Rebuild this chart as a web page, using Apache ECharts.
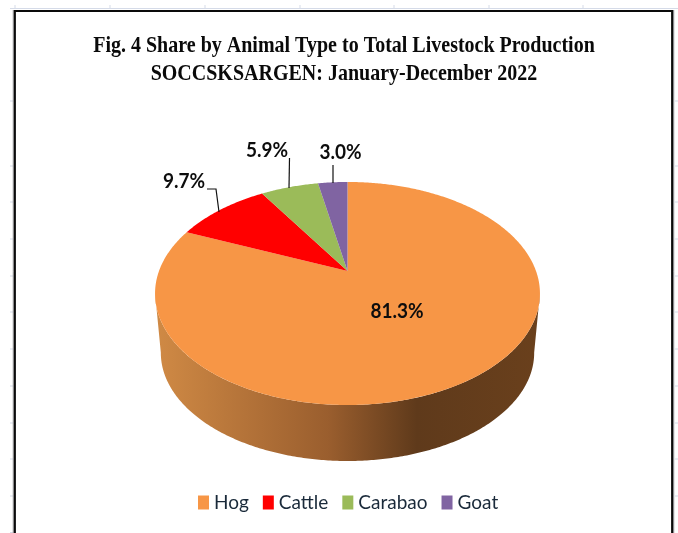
<!DOCTYPE html>
<html><head><meta charset="utf-8">
<style>html,body{margin:0;padding:0;background:#fff}#c{width:678px;height:533px}</style>
<script src="https://cdn.jsdelivr.net/npm/echarts@6/dist/echarts.min.js"></script></head>
<body><div id="c"></div>
<script>
const categories = ['Hog', 'Cattle', 'Carabao', 'Goat'];
const shares = [81.3, 9.7, 5.9, 3.0];
const shareLabels = ['81.3%', '9.7%', '5.9%', '3.0%'];
const titleLines = ['Fig. 4 Share by Animal Type to Total Livestock Production', 'SOCCSKSARGEN: January-December 2022'];

const colors = ['#F79646', '#FF0000', '#9BBB59', '#8064A2'];
const total = shares.reduce((a, b) => a + b, 0);
// perspective projection of the pie disc
const P = {cx: 347.5, apexY: 271, A: 188.5, B: 107, p: 0.2017, midY: 293.5, wallScale: 0.97, wallDrop: 59.3};
function project(t) {
  const u = Math.sin(t), v = Math.cos(t), d = 1 + P.p * v;
  return [P.cx + P.A * u / d, P.apexY - P.B * v / d];
}
function arc(t0, t1) {
  const n = Math.max(2, Math.ceil(Math.abs(t1 - t0) / 0.01)), pts = [];
  for (let i = 0; i <= n; i++) pts.push(project(t0 + (t1 - t0) * i / n));
  return pts;
}
function wallPt(q) {
  return [P.cx + (q[0] - P.cx) * P.wallScale, P.midY + (q[1] - P.midY) * P.wallScale + P.wallDrop];
}
// label placement: text centre, leader polyline
const labelPlace = [
  {x: 397, y: 311, line: null},
  {x: 184, y: 181, line: [[207, 189], [216, 189], [219, 212]]},
  {x: 267, y: 150, line: [[289.5, 158], [289, 188]]},
  {x: 340.5, y: 152, line: [[333, 165], [333, 183]]}
];
const labelFont = {fontFamily: 'Lato', fontWeight: 'bold', fontSize: 21, fill: '#0d0d0d', align: 'center', verticalAlign: 'middle'};

function makeSeries(i) {
  const before = shares.slice(0, i).reduce((a, b) => a + b, 0);
  return {
    type: 'custom', name: categories[i], coordinateSystem: 'none', silent: true,
    itemStyle: {color: colors[i]},
    z: i === 0 ? 2 : 3,
    data: [[before, before + shares[i]]],
    renderItem(params, api) {
      const t0 = api.value(0) / total * 2 * Math.PI, t1 = api.value(1) / total * 2 * Math.PI;
      const children = [];
      if (i === 0) {
        // side wall of the visible front part of the disc
        const front = arc(Math.PI / 2 + 0.2, Math.PI * 1.5 - 0.2);
        const bottom = front.map(wallPt).reverse();
        children.push({type: 'polygon', shape: {points: front.concat(bottom)}, style: {
          fill: new echarts.graphic.LinearGradient(0, 0, 1, 0, [
            {offset: 0, color: '#d08a45'}, {offset: 0.45, color: '#9a5e2e'}, {offset: 0.68, color: '#5f3a1b'}, {offset: 1, color: '#6a401c'}
          ])
        }});
      }
      const pts = [[P.cx, P.apexY]].concat(arc(t0, t1));
      children.push({type: 'polygon', shape: {points: pts}, style: {fill: colors[i]}});
      const lp = labelPlace[i];
      if (lp.line) children.push({type: 'polyline', shape: {points: lp.line}, style: {fill: 'none', stroke: '#111', lineWidth: 1.2}});
      children.push({type: 'text', x: lp.x, y: lp.y, scaleX: 0.905, z2: 10, style: Object.assign({text: shareLabels[i]}, labelFont)});
      return {type: 'group', children};
    }
  };
}

// faint worksheet ticks outside the chart frame
const graphics = [];
const tick = (x1, y1, x2, y2) => graphics.push({type: 'line', shape: {x1, y1, x2, y2}, style: {stroke: '#d5dbe8', lineWidth: 1}, silent: true});
[15, 110, 205, 300, 394, 489, 583].forEach(x => tick(x, 5, x, 9));
[101, 166, 202, 239, 276, 312, 349, 386, 423, 459, 496, 532.5].forEach(y => { tick(10, y, 13, y); if (y < 500) tick(675, y, 678, y); });
tick(10, 8.5, 678, 8.5);
const seg = (pts, stroke, lineWidth) => graphics.push({type: 'polyline', shape: {points: pts}, style: {fill: 'none', stroke, lineWidth}, silent: true});
seg([[13.2, 533], [13.2, 10]], '#a8a8ac', 1);
seg([[673.8, 533], [673.8, 10]], '#a8a8ac', 1);
seg([[14.8, 533], [14.8, 11], [672.2, 11], [672.2, 533]], '#0a0a0a', 2.2);
// title (slightly condensed serif, as in the picture)
titleLines.forEach((line, k) => graphics.push({
  type: 'text', x: 344, y: 46 + k * 28.5, scaleX: 0.889, silent: true,
  style: {text: line, fontFamily: 'Liberation Serif', fontWeight: 'bold', fontSize: 22.5, fill: '#0a0a0a', align: 'center', verticalAlign: 'middle'}
}));

const chart = echarts.init(document.getElementById('c'), null, {renderer: 'canvas'});
chart.setOption({
  backgroundColor: '#fff',
  animation: false,
  legend: {
    left: 193, top: 488, itemWidth: 11, itemHeight: 14, itemGap: 14, icon: 'rect',
    textStyle: {fontFamily: 'Lato', fontSize: 19, color: '#1a2a3a'},
    data: categories
  },
  graphic: graphics,
  series: categories.map((c, i) => makeSeries(i))
});
</script></body></html>
